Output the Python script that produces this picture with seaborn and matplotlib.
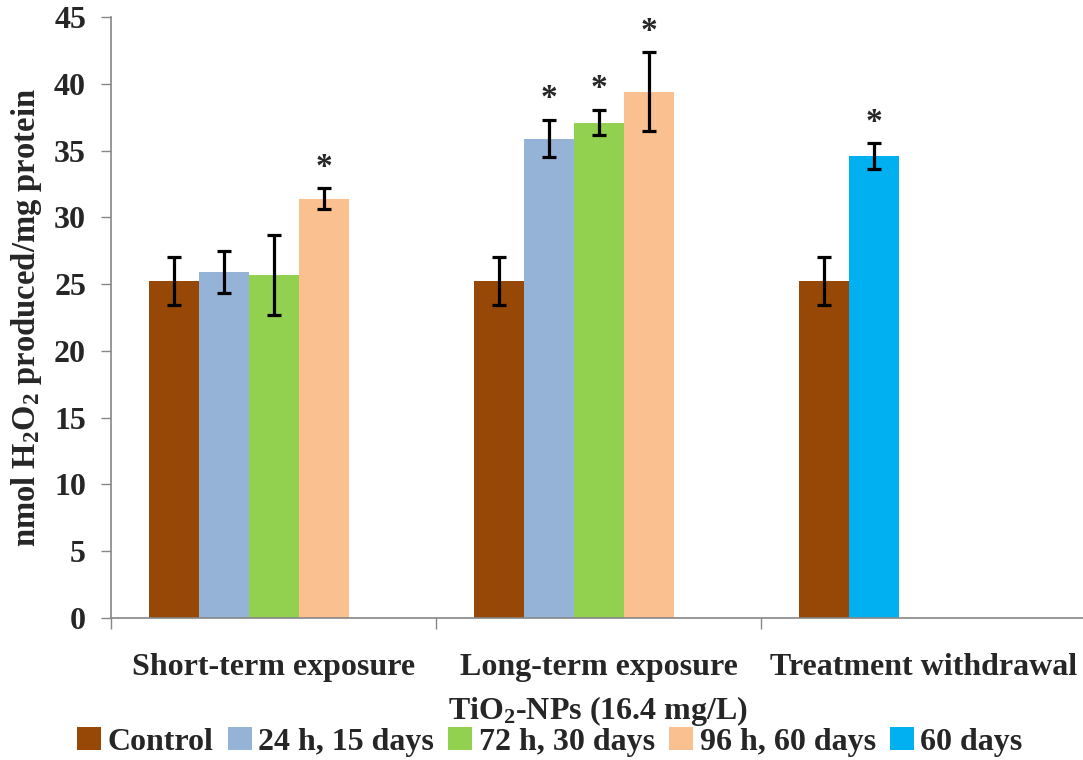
import numpy as np
import pandas as pd
import seaborn as sns
import matplotlib.pyplot as plt
from matplotlib.patches import Patch

# Data
groups = ["Short-term exposure", "Long-term exposure", "Treatment withdrawal"]
series = ["Control", "24 h, 15 days", "72 h, 30 days", "96 h, 60 days", "60 days"]
colors = ["#974706", "#95B3D7", "#92D050", "#FAC090", "#00B0F0"]

short_means = [25.2, 25.9, 25.7, 31.4]
short_err = [1.8, 1.6, 3.0, 0.8]
short_sig = [False, False, False, True]

long_means = [25.2, 35.9, 37.1, 39.4]
long_err = [1.8, 1.4, 0.95, 2.95]
long_sig = [False, True, True, True]

withdrawal_means = [25.2, 34.6]
withdrawal_err = [1.8, 0.95]
withdrawal_sig = [False, True]
withdrawal_series = [0, 4]  # colour index of each bar

# Build long table: group index, slot within group, series colour index
rows = []
for i, (m, e, s) in enumerate(zip(short_means, short_err, short_sig)):
    rows.append((0, i, i, m, e, s))
for i, (m, e, s) in enumerate(zip(long_means, long_err, long_sig)):
    rows.append((1, i, i, m, e, s))
for i, (m, e, s) in enumerate(zip(withdrawal_means, withdrawal_err, withdrawal_sig)):
    rows.append((2, i, withdrawal_series[i], m, e, s))
df = pd.DataFrame(rows, columns=["group", "slot", "series", "mean", "err", "sig"])

sns.set_theme(style="white")
plt.rcParams['font.family'] = ['Liberation Serif', 'DejaVu Serif']
plt.rcParams['font.weight'] = 'bold'
plt.rcParams['mathtext.fontset'] = 'custom'
plt.rcParams['mathtext.rm'] = 'Liberation Serif:bold'
plt.rcParams['mathtext.bf'] = 'Liberation Serif:bold'
plt.rcParams['mathtext.default'] = 'bf'

fig = plt.figure(figsize=(10.83, 7.6), dpi=100)
ax = fig.add_axes([111 / 1083, 1 - 618 / 760, 975 / 1083, (618 - 17) / 760])

bar_w = 50 / 325
for _, r in df.iterrows():
    x = r["group"] + (r["slot"] - 2) * bar_w
    ax.bar(x, r["mean"], width=bar_w, color=colors[int(r["series"])], edgecolor="none", zorder=2)
    ax.errorbar(x, r["mean"], yerr=r["err"], fmt="none", ecolor="black",
                elinewidth=2.3, capsize=4.8, capthick=2.3, zorder=3)
    if r["sig"]:
        ax.text(x, r["mean"] + r["err"] + 0.4, "*", ha="center", va="bottom",
                fontsize=24, fontweight="bold")

ax.set_xlim(-0.5, 2.5)
ax.set_ylim(0, 45)
ax.set_yticks(np.arange(0, 46, 5))
ax.tick_params(axis="y", which="major", direction="out", length=7, width=1,
               color="#868686", labelsize=23, pad=11, left=True)

ax.set_xticks([0, 1, 2])
ax.set_xticklabels(groups, fontsize=23, fontweight="bold")
ax.set_xticks([-0.5, 0.5, 1.5, 2.5], minor=True)
ax.tick_params(axis="x", which="major", length=0, pad=25)
ax.tick_params(axis="x", which="minor", direction="out", length=8, width=1,
               color="#868686", bottom=True)

for side in ["top", "right"]:
    ax.spines[side].set_visible(False)
for side in ["left", "bottom"]:
    ax.spines[side].set_color("#868686")
    ax.spines[side].set_linewidth(1.2)

ax.set_ylabel(r"nmol H$_2$O$_2$ produced/mg protein", fontsize=23.5, fontweight="bold")
ax.yaxis.set_label_coords(-0.069, 0.5)

fig.text(598 / 1083, 1 - 711 / 760, r"TiO$_2$-NPs (16.4 mg/L)", ha="center", va="center",
         fontsize=23, fontweight="bold")

handles = [Patch(facecolor=c, edgecolor="none") for c in colors]
fig.legend(handles, series, loc="center", bbox_to_anchor=(550 / 1083, 1 - 742 / 760),
           ncol=5, frameon=False, fontsize=23, handlelength=0.75, handleheight=0.75,
           handletextpad=0.2, columnspacing=0.45, borderpad=0)

fig.savefig("out.png", dpi=100)
